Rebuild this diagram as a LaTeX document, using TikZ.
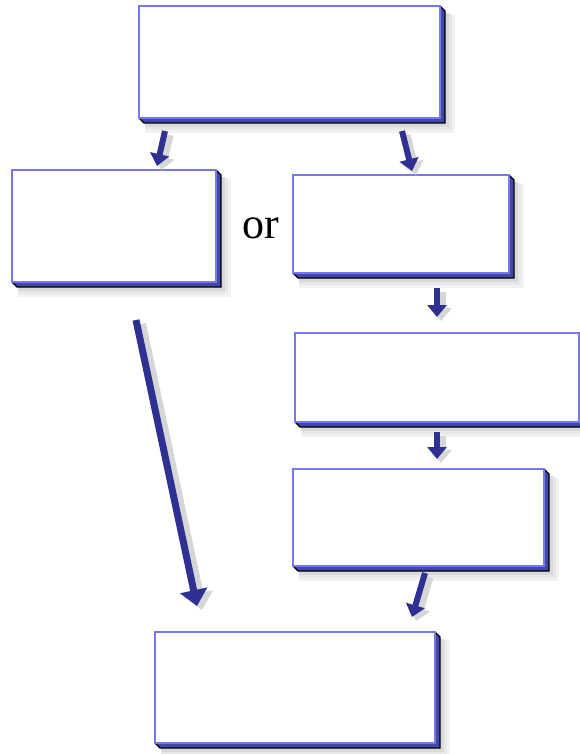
\documentclass[tikz,border=0pt]{standalone}
\usepackage{fontspec}
\setmainfont{Liberation Serif}
\usetikzlibrary{arrows.meta}
\definecolor{arrowblue}{HTML}{2E3192}
\definecolor{edgeblue}{HTML}{4248A8}
\definecolor{rimblue}{HTML}{7878EE}
\tikzset{
  facebox/.style={draw=rimblue, fill=white, line width=1.3pt, inner sep=0pt, outer sep=0pt},
  arr/.style={draw=arrowblue, line width=6pt, -{Triangle[width=19pt,length=12pt]}},
  arrlong/.style={draw=arrowblue, line width=7pt, -{Triangle[width=27pt,length=16pt]}},
  arrshadow/.style={draw=black!16, line width=9pt, -{Triangle[width=21pt,length=13pt]}},
  arrlongshadow/.style={draw=black!16, line width=10pt, -{Triangle[width=29pt,length=17pt]}},
}
\newcommand\flowbox[5]{%
  \pgfmathsetmacro\xa{#2}\pgfmathsetmacro\ya{#3}%
  \pgfmathsetmacro\xb{#4-5}\pgfmathsetmacro\yb{#5-5}%
  \pgfmathsetmacro\bw{\xb-\xa}\pgfmathsetmacro\bh{\yb-\ya}%
  \fill[black!5] (\xa+6,\ya+9) rectangle (\xb+15,\yb+15);
  \fill[black!9] (\xa+6,\ya+8) rectangle (\xb+12,\yb+12);
  \fill[black!15] (\xa+6,\ya+7) rectangle (\xb+9,\yb+9);
  \filldraw[fill=edgeblue, draw=black, line width=1.2pt, line join=miter]
    (\xb,\ya) -- (\xb+5,\ya+5) -- (\xb+5,\yb+5) -- (\xa+5,\yb+5) -- (\xa,\yb) -- cycle;
  \node[facebox, minimum width=\bw pt, minimum height=\bh pt] (#1)
    at ({(\xa+\xb)/2},{(\ya+\yb)/2}) {};
}
\begin{document}
\begin{tikzpicture}[x=1pt, y=-1pt]
\useasboundingbox (0,0) rectangle (579,754);
\flowbox{A}{139}{6}{445}{123}
\flowbox{B}{12}{170}{221}{287}
\flowbox{C}{293}{175}{514}{278}
\flowbox{D}{295}{333}{584}{427}
\flowbox{E}{293}{469}{549}{571}
\flowbox{F}{155}{632}{440}{748}
\node[font=\fontsize{44}{46}\selectfont, inner sep=0pt] (or) at (261,228) {or};
\coordinate (a1s) at (165,131); \coordinate (a1e) at (157,166);
\coordinate (a2s) at (402,131); \coordinate (a2e) at (412,171);
\coordinate (a3s) at (437,288); \coordinate (a3e) at (437,317);
\coordinate (a4s) at (437,432); \coordinate (a4e) at (437,459);
\coordinate (a5s) at (425,573); \coordinate (a5e) at (412,617);
\coordinate (a6s) at (136,320); \coordinate (a6e) at (197,606);
\foreach \s/\e in {a1s/a1e,a2s/a2e,a3s/a3e,a4s/a4e,a5s/a5e}{
  \draw[arrshadow] ([shift={(4,4)}]\s) -- ([shift={(4,4)}]\e);
}
\draw[arrlongshadow] ([shift={(5,4)}]a6s) -- ([shift={(5,4)}]a6e);
\foreach \s/\e in {a1s/a1e,a2s/a2e,a3s/a3e,a4s/a4e,a5s/a5e}{
  \draw[arr] (\s) -- (\e);
}
\draw[arrlong] (a6s) -- (a6e);
\end{tikzpicture}
\end{document}
